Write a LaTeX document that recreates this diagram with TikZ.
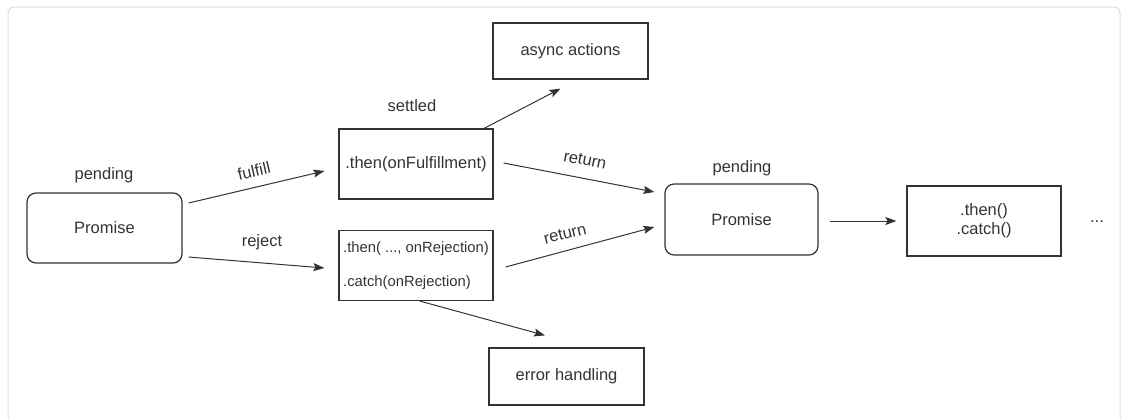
\documentclass[tikz,border=0pt]{standalone}
\usepackage{fontspec}
\setmainfont{Liberation Sans}
\usetikzlibrary{arrows.meta,calc}
\definecolor{ink}{HTML}{333333}
\definecolor{framegray}{HTML}{DADADA}
\begin{document}
\begin{tikzpicture}[x=1pt,y=-1pt,
  every node/.style={font=\fontsize{16.5}{19}\selectfont, text=ink, inner sep=0pt},
  promisebox/.style={draw=ink, line width=1.2pt, rounded corners=9pt, minimum width=155pt, minimum height=70pt},
  plainbox/.style={draw=ink, line width=1.2pt, minimum width=154pt, minimum height=70pt},
  conn/.style={draw=ink, line width=1pt, -{Stealth[length=11pt,width=8pt,inset=2pt]}},
]
\useasboundingbox (0,0) rectangle (1125,418);
\clip (0,0) rectangle (1125,418);
\draw[framegray, line width=1pt, rounded corners=6pt] (8,7) rectangle (1120,440);

\node[promisebox] (p1) at (104.5,228) {Promise};
\node (pend1) at (104,175) {pending};
\node[plainbox] (then) at (416,164) {.then(onFulfillment)};
\node (settled) at (412,106) {settled};
\node[plainbox, align=left, font=\fontsize{14.8}{18}\selectfont] (catch) at (416,265.5) {.then( ..., onRejection)\\[16pt].catch(onRejection)};
\node[plainbox, minimum width=155pt, minimum height=56pt] (async) at (570.5,51) {async actions};
\node[plainbox, minimum width=155pt, minimum height=57pt] (err) at (566.5,376.5) {error handling};
\node[promisebox, minimum width=153pt, minimum height=71pt] (p2) at (741.5,219.5) {Promise};
\node (pend2) at (742,168) {pending};
\node[plainbox, align=center] (tc) at (984,221) {.then()\\.catch()};
\node (dots) at (1097,222) {...};

\draw[conn] ([xshift=6pt,yshift=25pt]p1.east) -- ([xshift=-14pt,yshift=-7pt]then.west);
\draw[conn] ([xshift=6pt,yshift=-29pt]p1.east) -- ([xshift=-14pt,yshift=-2.5pt]catch.west);
\draw[conn] ([xshift=68pt]then.north) -- ([xshift=-10pt,yshift=-9pt]async.south);
\draw[conn] ([xshift=10pt,yshift=1pt]then.east) -- ([xshift=-10pt,yshift=27.5pt]p2.west);
\draw[conn] ([xshift=12pt,yshift=-1.5pt]catch.east) -- ([xshift=-10pt,yshift=-7.5pt]p2.west);
\draw[conn] ([xshift=4pt]catch.south) -- ([xshift=-21.5pt,yshift=12pt]err.north);
\draw[conn] ([xshift=11pt,yshift=-1.5pt]p2.east) -- ([xshift=-10pt]tc.west);

\node[rotate=13] (lfulfill) at (254,171) {fulfill};
\node (lreject) at (262,242) {reject};
\node[rotate=-11] (lret1) at (585,160) {return};
\node[rotate=14] (lret2) at (565,234) {return};
\end{tikzpicture}
\end{document}
